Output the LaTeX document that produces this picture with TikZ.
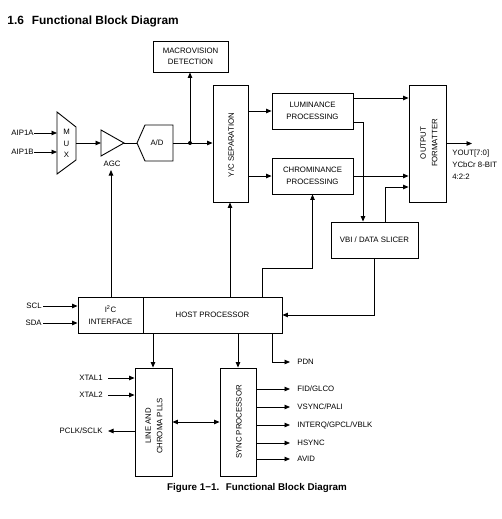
\documentclass[tikz,border=0pt]{standalone}
\usepackage{fontspec}
\setmainfont{Liberation Sans}
\usetikzlibrary{arrows.meta}
\begin{document}
\begin{tikzpicture}[x=1pt,y=-1pt,line width=0.8pt,
  lbl/.style={font=\fontsize{7.8}{9}\selectfont, inner sep=0pt},
  blk/.style={draw, line width=0.9pt, inner sep=0pt},
  btxt/.style={font=\fontsize{7.8}{11.5}\selectfont, align=center, inner sep=0pt},
  arr/.style={-{Triangle[length=5.5pt,width=4.5pt]}},
  darr/.style={{Triangle[length=5.5pt,width=4.5pt]}-{Triangle[length=5.5pt,width=4.5pt]}}]
\useasboundingbox (0,0) rectangle (501,519);

% title and caption
\node[anchor=west, inner sep=0pt, font=\fontsize{11.9}{13}\selectfont\bfseries] (title) at (7,21) {1.6\hspace{8pt}Functional Block Diagram};
\node[inner sep=0pt, font=\fontsize{9.8}{11}\selectfont\bfseries] (caption) at (257,488) {Figure 1−1.\hspace{3pt} Functional Block Diagram};

% blocks
\node[blk, minimum width=75pt, minimum height=31pt] (mv) at (190.5,56.5) {};
\node[btxt] (mvt) at (mv) {MACROVISION\\DETECTION};
\node[blk, minimum width=35pt, minimum height=117pt] (yc) at (230.5,143.5) {};
\node[btxt, rotate=90] (yct) at (231,145) {Y/C  SEPARATION};
\node[blk, minimum width=81pt, minimum height=36pt] (lum) at (312.5,111) {};
\node[btxt] (lumt) at (lum) {LUMINANCE\\PROCESSING};
\node[blk, minimum width=81pt, minimum height=36pt] (chr) at (312.5,176) {};
\node[btxt] (chrt) at (chr) {CHROMINANCE\\PROCESSING};
\node[blk, minimum width=37pt, minimum height=117pt] (of) at (427.5,143.5) {};
\node[btxt, rotate=90] (oft) at (429,143) {OUTPUT\\FORMATTER};
\node[blk, minimum width=87pt, minimum height=36pt] (vbi) at (374.5,240) {};
\node[btxt] (vbit) at (vbi) {VBI / DATA SLICER};
\node[blk, minimum width=65pt, minimum height=36pt] (i2c) at (110.5,315) {};
\node[btxt] (i2ct) at (i2c) {I\textsuperscript{2}C\\INTERFACE};
\node[blk, minimum width=139pt, minimum height=36pt] (host) at (212.5,315) {};
\node[btxt] (hostt) at (host) {HOST PROCESSOR};
\node[blk, minimum width=37pt, minimum height=108pt] (pll) at (153.5,422) {};
\node[btxt, rotate=90] (pllt) at (154,426) {LINE AND\\CHROMA PLLS};
\node[blk, minimum width=36pt, minimum height=108pt] (sync) at (238,422) {};
\node[btxt, rotate=90] (synct) at (239,422) {SYNC PROCESSOR};

% MUX, AGC, A/D shapes
\draw[line width=0.9pt] (57,112) -- (76,127) -- (76,160) -- (57,174) -- cycle;
\node[lbl] (muxm) at (66.5,132) {M};
\node[lbl] (muxu) at (66.5,143.5) {U};
\node[lbl] (muxx) at (66.5,155) {X};
\draw[line width=0.9pt] (101,130) -- (124,143) -- (101,156) -- cycle;
\node[lbl] (agct) at (112,164) {AGC};
\draw[line width=0.9pt] (137,143) -- (145,125) -- (173,125) -- (173,161) -- (145,161) -- cycle;
\node[lbl] (adt) at (157,143) {A/D};

\coordinate (muxa) at (57,133);
\coordinate (muxb) at (57,152);
\coordinate (muxo) at (76,143);
\coordinate (agcin) at (101,143);
\coordinate (agcout) at (124,143);
\coordinate (adin) at (137,143);
\coordinate (adout) at (173,143);
\coordinate (agcbot) at (111,170);
\coordinate (dot) at (190,143);

% inputs
\node[lbl, anchor=east] (aip1a) at (34,133) {AIP1A};
\node[lbl, anchor=east] (aip1b) at (34,152) {AIP1B};
\draw[arr] (aip1a.east) -- (muxa);
\draw[arr] (aip1b.east) -- (muxb);
\draw[arr] (muxo) -- (agcin);
\draw (agcout) -- (adin);
\draw[arr] (adout) -- (yc.west |- adout);
\fill (dot) circle (2pt);
\draw[arr] (dot) -- (dot |- mv.south);

% Y/C to processing
\draw[arr] (yc.east |- lum.west) -- (lum.west);
\draw[arr] (yc.east |- chr.west) -- (chr.west);
\draw[arr] (lum.east |- 0,98) -- (of.west |- 0,98);
\draw[arr] (lum.east |- 0,122) -- (363,122) -- (363,0 |- vbi.north);
\draw[arr] (chr.east) -- (of.west |- chr.east);
\draw[arr] (385,0 |- vbi.north) -- (385,187) -- (of.west |- 0,187);
\draw[arr] (of.east) -- (472,143.5);
\node[lbl, anchor=west] (yout1) at (452,153) {YOUT[7:0]};
\node[lbl, anchor=west] (yout2) at (452,165) {YCbCr 8-BIT};
\node[lbl, anchor=west] (yout3) at (452,177) {4:2:2};

% host connections
\draw[arr] (374,0 |- vbi.south) -- (374,315) -- (host.east);
\draw[arr] (262,0 |- host.north) -- (262,268) -- (chr.south |- 0,268) -- (chr.south);
\draw[arr] (230,0 |- host.north) -- (230,0 |- yc.south);
\draw[arr] (111,0 |- i2c.north) -- (agcbot);
\node[lbl, anchor=east] (scl) at (42,306) {SCL};
\node[lbl, anchor=east] (sda) at (42,323) {SDA};
\draw[arr] (scl.east) ++(1,0) -- (i2c.west |- scl.east);
\draw[arr] (sda.east) ++(1,0) -- (i2c.west |- sda.east);

% lower part
\draw[arr] (153,0 |- host.south) -- (153,0 |- pll.north);
\draw[arr] (238,0 |- host.south) -- (sync.north);
\node[lbl, anchor=west] (pdn) at (297,362) {PDN};
\draw[arr] (272,0 |- host.south) -- (272,362) -- (290,362);
\node[lbl, anchor=east] (xtal1) at (103,378) {XTAL1};
\node[lbl, anchor=east] (xtal2) at (103,395) {XTAL2};
\node[lbl, anchor=east] (pclk) at (103,431) {PCLK/SCLK};
\draw[arr] (108,378) -- (pll.west |- xtal1.east);
\draw[arr] (108,395) -- (pll.west |- xtal2.east);
\draw[arr] (pll.west |- pclk.east) -- (108,431);
\draw[darr] (pll.east) -- (sync.west);

\node[lbl, anchor=west] (o1) at (297,389) {FID/GLCO};
\node[lbl, anchor=west] (o2) at (297,407) {VSYNC/PALI};
\node[lbl, anchor=west] (o3) at (297,425) {INTERQ/GPCL/VBLK};
\node[lbl, anchor=west] (o4) at (297,443) {HSYNC};
\node[lbl, anchor=west] (o5) at (297,459) {AVID};
\foreach \o in {o1,o2,o3,o4,o5}
  \draw[arr] (sync.east |- \o.west) -- (290,0 |- \o.west);
\end{tikzpicture}
\end{document}
